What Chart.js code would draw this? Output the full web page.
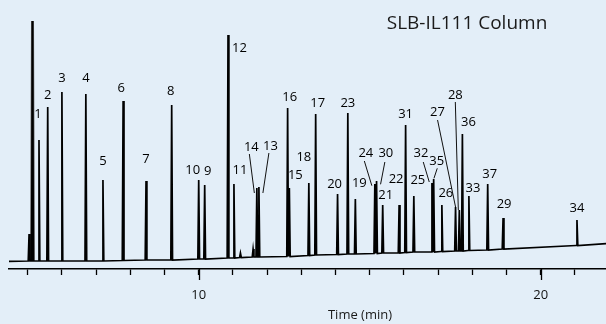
<!DOCTYPE html>
<html>
<head>
<meta charset="utf-8">
<script src="https://cdn.jsdelivr.net/npm/chart.js@4.4.1/dist/chart.umd.min.js"></script>
<style>
  body { margin: 0; background: #e3eef8; }
  canvas { display: block; }
</style>
</head>
<body>
<canvas id="chroma" width="606" height="324"></canvas>
<script>
    // peak data (time in min, signal in arbitrary units)
    const peakNames = ['', '1', '2', '3', '4', '5', '6', '7', '8', '10', '9', '12', '11', '', '',
        '14', '13', '16', '15', '18', '17', '20', '23', '19', '24', '30', '21', '22', '31', '25',
        '32', '35', '26', '27', '28', '36', '33', '37', '29', '34'];
    const peakTimes = [5.04, 5.33, 5.585, 6.00, 6.70, 7.20, 7.79, 8.46, 9.21, 10.00, 10.175, 10.857, 11.03, 11.22, 11.59,
        11.70, 11.76, 12.60, 12.65, 13.22, 13.42, 14.06, 14.36, 14.58, 15.15, 15.20, 15.38, 15.86, 16.05, 16.29,
        16.82, 16.87, 17.11, 17.51, 17.62, 17.71, 17.90, 18.45, 18.90, 21.06];
    const peakHeights = [35, 129, 162, 177, 175, 89, 168, 88, 164, 89, 84, 234, 85, 16, 20,
        81, 82, 161, 81, 86, 155, 75, 156, 70, 85, 88, 64, 64, 144, 73,
        86, 90, 64, 62, 59, 135, 73, 85, 51, 49];
    const peakFeet = [8, 8, 8, 8, 8, 8, 8.5, 9, 9, 10, 10, 11, 11, 11.5, 12,
        12, 12, 12.5, 12.5, 13.5, 14, 14.5, 15, 15, 15.5, 15.5, 16, 16, 16.5, 17,
        17, 17, 17.5, 18, 18, 18, 18.5, 19, 20, 23.5];

    const solventTime = 5.14;
    const solventHeight = 248;

    const baseTimes = [4.45, 21.91];
    const baseLevels = [7.7, 25.4];

    const majorTicks = [10, 20];

    // label placement (pixels from the peak apex), default is straight above
    const labelOffsets = {
        '1': [-1, -26], '3': [0, -14], '4': [0, -16], '5': [0, -19], '6': [-2, -13], '7': [0, -22],
        '8': [-1, -14], '10': [-6, -10], '9': [3, -14], '12': [11.5, 13], '11': [6, -14],
        '16': [2, -11], '15': [6, -13], '18': [-5, -26], '17': [2, -11], '20': [-3, -10],
        '23': [0, -9.5], '19': [4, -16], '21': [3, -10], '22': [-3, -26], '31': [0, -11],
        '25': [4, -16], '26': [4, -12], '36': [6, -12], '33': [4, -7.5], '37': [2, -10],
        '29': [1, -14], '34': [0, -12], '2': [0, -12]
    };
    // labels that sit away from their peak with a leader line
    const leaders = {
        '14': { at: [-5.5, -41], line: [-7.5, -34, -2.5, 5] },
        '13': { at: [11.5, -41], line: [10, -34, 4, 6] },
        '24': { at: [-9, -31], line: [-10.5, -23, -3, 1.7] },
        '30': { at: [9.3, -28], line: [8.3, -19, 4, 3.3] },
        '32': { at: [-11, -29.4], line: [-8.7, -21, -2.7, -1] },
        '35': { at: [3, -17.3], line: [3.6, -10.7, 0.3, -0.7] },
        '27': { at: [-18, -95], line: [-18, -87, 0, 0] },
        '28': { at: [-4, -115], line: [-4, -108, -1, 0] }
    };

    const PEAK_HALF = 0.025;

    // build the trace: baseline ends + a triangle per peak
    let trace = [{ x: baseTimes[0], y: baseLevels[0] }];
    const allPeaks = peakTimes.map((t, i) => ({ t: t, h: peakHeights[i], f: peakFeet[i] }));
    allPeaks.push({ t: solventTime, h: solventHeight, f: peakFeet[0] });
    allPeaks.sort((a, b) => a.t - b.t);
    allPeaks.forEach(p => {
        trace.push({ x: p.t - PEAK_HALF, y: p.f });
        trace.push({ x: p.t, y: p.h });
        trace.push({ x: p.t + PEAK_HALF, y: p.f });
    });
    trace.push({ x: baseTimes[1], y: baseLevels[1] });

    const solventTrace = [
        { x: solventTime - PEAK_HALF, y: peakFeet[0] },
        { x: solventTime, y: solventHeight },
        { x: solventTime + PEAK_HALF, y: peakFeet[0] }
    ];

    const labelFont = '13px "Open Sans", sans-serif';

    const decorations = {
        id: 'decorations',
        beforeDraw(chart) {
            const ctx = chart.ctx;
            ctx.save();
            ctx.fillStyle = '#e3eef8';
            ctx.fillRect(0, 0, chart.width, chart.height);
            ctx.restore();
        },
        afterDatasetsDraw(chart) {
            const ctx = chart.ctx;
            const xs = chart.scales.x;
            const ys = chart.scales.y;
            ctx.save();
            ctx.font = labelFont;
            ctx.fillStyle = '#000';
            ctx.strokeStyle = '#111';
            ctx.lineWidth = 1;
            ctx.textAlign = 'center';
            ctx.textBaseline = 'middle';
            peakNames.forEach((name, i) => {
                if (name === '') return;
                const px = xs.getPixelForValue(peakTimes[i]);
                const py = ys.getPixelForValue(peakHeights[i]);
                if (leaders[name]) {
                    const l = leaders[name];
                    ctx.fillText(name, px + l.at[0], py + l.at[1]);
                    ctx.beginPath();
                    ctx.moveTo(px + l.line[0], py + l.line[1]);
                    ctx.lineTo(px + l.line[2], py + l.line[3]);
                    ctx.stroke();
                } else {
                    const off = labelOffsets[name] || [0, -13];
                    ctx.fillText(name, px + off[0], py + off[1]);
                }
            });

            // longer ticks at the labelled minutes
            const axisY = xs.top;
            ctx.lineWidth = 1.3;
            ctx.strokeStyle = '#000';
            majorTicks.forEach(t => {
                const tx = Math.round(xs.getPixelForValue(t)) + 0.5;
                ctx.beginPath();
                ctx.moveTo(tx, axisY);
                ctx.lineTo(tx, axisY + 11);
                ctx.stroke();
            });

            ctx.font = '19px "Open Sans", sans-serif';
            ctx.fillStyle = '#1a1a1a';
            ctx.fillText('SLB-IL111 Column', 467, 24);

            ctx.font = '13px "Open Sans", sans-serif';
            ctx.fillText('Time (min)', 360, 315);
            ctx.restore();
        }
    };

    const chromaChart = new Chart(document.getElementById('chroma'), {
        type: 'line',
        data: {
            datasets: [{
                data: trace,
                borderColor: '#000',
                borderWidth: 1.7,
                pointRadius: 0,
                tension: 0,
                fill: false
            }, {
                data: solventTrace,
                borderColor: '#555',
                borderWidth: 3,
                pointRadius: 0,
                tension: 0,
                fill: false
            }]
        },
        options: {
            responsive: false,
            animation: false,
            events: [],
            layout: { padding: { left: 9, right: 0, top: 0, bottom: 0 } },
            plugins: {
                legend: { display: false },
                tooltip: { enabled: false }
            },
            scales: {
                x: {
                    type: 'linear',
                    min: 4.453,
                    max: 21.909,
                    afterFit: (scale) => { scale.height = 55; },
                    ticks: {
                        stepSize: 1,
                        includeBounds: false,
                        autoSkip: false,
                        maxRotation: 0,
                        padding: 12,
                        color: '#111',
                        font: { family: '"Open Sans", sans-serif', size: 13 },
                        callback: (v) => majorTicks.includes(v) ? String(v) : ''
                    },
                    grid: {
                        drawOnChartArea: false,
                        drawTicks: true,
                        tickLength: 6,
                        tickColor: '#000',
                        tickWidth: 1.3
                    },
                    border: { display: true, color: '#000', width: 1.5 }
                },
                y: {
                    display: false,
                    min: 0,
                    max: 269
                }
            }
        },
        plugins: [decorations]
    });
</script>
</body>
</html>
